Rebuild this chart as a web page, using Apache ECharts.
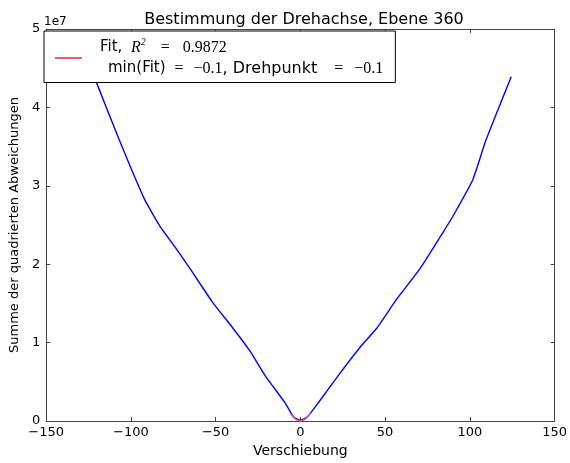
<!DOCTYPE html>
<html>
<head>
<meta charset="utf-8">
<script src="https://cdn.jsdelivr.net/npm/echarts@6/dist/echarts.min.js"></script>
<style>
    html, body { margin: 0; padding: 0; background: #fff; }
    #main { width: 570px; height: 463px; }
</style>
</head>
<body>
<div id="main"></div>
<script>
// Verschiebung vs. Summe der quadrierten Abweichungen
var shiftValues = [-125, -120, -106, -92, -83, -73, -65, -52, -40, -30, -20.5, -9, -4, 0, 4, 10.5, 22, 35.6, 45.3, 57, 70.5, 84, 91, 101.6, 109.3, 124.4];
var sumValues = [4.6e7, 4.3e7, 3.54e7, 2.83e7, 2.49e7, 2.19e7, 1.94e7, 1.52e7, 1.19e7, 0.9e7, 0.57e7, 0.23e7, 0.05e7, 0.01e7, 0.05e7, 0.23e7, 0.57e7, 0.95e7, 1.19e7, 1.56e7, 1.94e7, 2.4e7, 2.65e7, 3.07e7, 3.57e7, 4.39e7];

// Fit (Parabel um den Drehpunkt)
var fitX = [-6, -3, 0, 3, 6];
var fitY = [0.1e7, 0.026e7, 0, 0.026e7, 0.1e7];

var xTicks = [-150, -100, -50, 0, 50, 100, 150];
var yTicks = [0, 1, 2, 3, 4, 5];

var blueData = [];
for (var i = 0; i < shiftValues.length; i++) {
    blueData.push([shiftValues[i], sumValues[i]]);
}
var fitData = [];
for (var j = 0; j < fitX.length; j++) {
    fitData.push([fitX[j], fitY[j]]);
}

function minus(v) {
    return String(v).replace('-', '\u2212');
}

var font = 'DejaVu Sans';
var serif = 'Liberation Serif';
var myChart = echarts.init(document.getElementById('main'));
var option = {
    backgroundColor: '#fff',
    animation: false,
    title: {
        text: 'Bestimmung der Drehachse, Ebene 360',
        left: 299,
        textAlign: 'center',
        top: 7,
        textStyle: { fontFamily: font, fontSize: 16, fontWeight: 'normal', color: '#000' }
    },
    grid: { left: 44, right: 10, top: 29, bottom: 35 },
    legend: {
        left: 44,
        top: 31,
        orient: 'vertical',
        padding: [6, 12, 6, 11],
        backgroundColor: '#fff',
        borderColor: '#000',
        borderWidth: 1,
        itemWidth: 27,
        itemHeight: 2,
        icon: 'rect',
        data: ['Fit'],
        formatter: function () {
            return '{g1|}{f|Fit,}{r|R}{s|2}{q1|=}{m|0.9872}\n' +
                '{g2|}{a|min(Fit)}{q2|=}{m|\u22120.1}{d|, Drehpunkt}{q3|=}{m|\u22120.1}';
        },
        textStyle: {
            color: '#000',
            rich: {
                g1: { width: 13, lineHeight: 21 },
                g2: { width: 21, lineHeight: 21 },
                f: { fontFamily: font, fontSize: 15, color: '#000', width: 31, lineHeight: 21 },
                a: { fontFamily: font, fontSize: 15, color: '#000', lineHeight: 21 },
                d: { fontFamily: font, fontSize: 16, color: '#000', lineHeight: 21 },
                r: { fontFamily: serif, fontStyle: 'italic', fontSize: 16, color: '#000', lineHeight: 21 },
                s: { fontFamily: serif, fontStyle: 'italic', fontSize: 10, color: '#000', verticalAlign: 'top', width: 8, lineHeight: 21 },
                q1: { fontFamily: serif, fontSize: 16, color: '#000', padding: [0, 13, 0, 12], lineHeight: 21 },
                q2: { fontFamily: serif, fontSize: 16, color: '#000', padding: [0, 10, 0, 9], lineHeight: 21 },
                q3: { fontFamily: serif, fontSize: 16, color: '#000', padding: [0, 11, 0, 17], lineHeight: 21 },
                m: { fontFamily: serif, fontSize: 16, color: '#000', lineHeight: 21 }
            }
        }
    },
    graphic: [
        {
            type: 'text',
            left: 44,
            top: 16,
            style: { text: '1e7', font: '12px "DejaVu Sans"', fill: '#000' }
        }
    ],
    xAxis: [
        {
            type: 'value',
            min: -150,
            max: 150,
            interval: 50,
            name: 'Verschiebung',
            nameLocation: 'middle',
            nameGap: 23,
            nameTextStyle: { fontFamily: font, fontSize: 14, color: '#000' },
            axisLine: { onZero: false, lineStyle: { color: '#444', width: 1 } },
            axisTick: { inside: true, length: 4, lineStyle: { color: '#444' } },
            axisLabel: {
                fontFamily: font, fontSize: 13, color: '#000', margin: 5,
                formatter: function (v) { return minus(v); }
            },
            splitLine: { show: false }
        },
        {
            type: 'value',
            position: 'top',
            min: -150,
            max: 150,
            interval: 50,
            axisLine: { onZero: false, lineStyle: { color: '#444', width: 1 } },
            axisTick: { inside: true, length: 4, lineStyle: { color: '#444' } },
            axisLabel: { show: false },
            splitLine: { show: false }
        }
    ],
    yAxis: [
        {
            type: 'value',
            min: 0,
            max: 5e7,
            interval: 1e7,
            name: 'Summe der quadrierten Abweichungen',
            nameLocation: 'middle',
            nameGap: 25,
            nameTextStyle: { fontFamily: font, fontSize: 13, color: '#000' },
            axisLine: { onZero: false, lineStyle: { color: '#444', width: 1 } },
            axisTick: { inside: true, length: 4, lineStyle: { color: '#444' } },
            axisLabel: {
                fontFamily: font, fontSize: 13, color: '#000', margin: 6,
                formatter: function (v) { return String(yTicks[Math.round(v / 1e7)]); }
            },
            splitLine: { show: false }
        },
        {
            type: 'value',
            position: 'right',
            min: 0,
            max: 5e7,
            interval: 1e7,
            axisLine: { onZero: false, lineStyle: { color: '#444', width: 1 } },
            axisTick: { inside: true, length: 4, lineStyle: { color: '#444' } },
            axisLabel: { show: false },
            splitLine: { show: false }
        }
    ],
    series: [
        {
            name: 'Daten',
            type: 'line',
            data: blueData,
            symbol: 'none',
            smooth: 0.15,
            lineStyle: { color: '#0000ff', width: 1.4 },
            itemStyle: { color: '#0000ff' },
            z: 2
        },
        {
            name: 'Fit',
            type: 'line',
            data: fitData,
            smooth: true,
            symbol: 'none',
            lineStyle: { color: '#e8606e', width: 1.4 },
            itemStyle: { color: '#e8606e' },
            z: 3
        }
    ]
};
myChart.setOption(option);
</script>
</body>
</html>
